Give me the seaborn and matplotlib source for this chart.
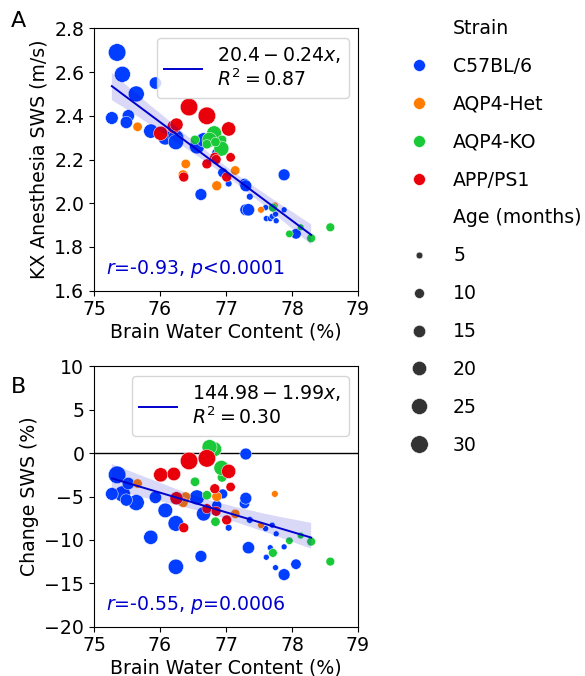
import numpy as np
import pandas as pd
import matplotlib
matplotlib.use("Agg")
import matplotlib.pyplot as plt
import seaborn as sns

# ========================== data ==========================
STRAIN_ORDER = ["C57BL/6", "AQP4-Het", "AQP4-KO", "APP/PS1"]

strain = (["C57BL/6"] * 31 + ["AQP4-Het"] * 7 + ["AQP4-KO"] * 12 + ["APP/PS1"] * 12)

age = [30, 25, 25, 16, 15, 15, 15, 20, 21, 24, 23, 22, 20, 14, 10, 10, 5, 11, 14, 14,
       15, 5, 4, 4, 4, 4, 4, 4, 4, 14, 11,
       9, 9, 10, 9, 10, 5, 5,
       9, 22, 22, 9, 22, 9, 9, 8, 6, 5, 8, 8,
       30, 30, 20, 20, 18, 17, 10, 9, 10, 10, 10, 10]

water = [75.35, 75.43, 75.64, 75.27, 75.52, 75.49, 75.93, 75.86, 76.08, 76.24,
         76.24, 76.56, 76.66, 76.62, 76.86, 76.95, 77.04, 77.28, 77.30, 77.30,
         77.34, 77.36, 77.60, 77.61, 77.67, 77.70, 77.76, 77.75, 77.88, 77.88, 78.06,
         75.66, 76.39, 76.35, 77.14, 76.86, 77.53, 77.74,
         76.53, 76.82, 76.75, 76.94, 76.93, 76.71, 76.84, 77.71, 77.96, 78.13, 78.29, 78.58,
         76.44, 76.71, 77.04, 76.01, 76.21, 76.25, 76.83, 77.07, 76.71, 76.85, 77.01, 76.36]

kx_sws = [2.69, 2.59, 2.50, 2.39, 2.40, 2.37, 2.55, 2.33, 2.30, 2.30,
          2.28, 2.26, 2.29, 2.04, 2.23, 2.14, 2.09, 2.09, 2.08, 1.97,
          1.97, 2.03, 1.98, 1.93, 1.93, 1.94, 1.92, 1.95, 1.97, 2.13, 1.86,
          2.35, 2.18, 2.13, 2.15, 2.08, 1.97, 1.99,
          2.29, 2.32, 2.29, 2.29, 2.25, 2.27, 2.28, 1.98, 1.86, 1.89, 1.84, 1.89,
          2.44, 2.40, 2.34, 2.32, 2.35, 2.36, 2.21, 2.21, 2.18, 2.20, 2.12, 2.12]

change_sws = [-2.5, -4.7, -5.7, -4.7, -3.5, -5.4, -5.1, -9.7, -6.6, -8.1,
              -13.1, -5.1, -7.0, -11.9, -6.0, -4.7, -8.6, -5.8, -5.2, -0.1,
              -10.9, -7.7, -8.7, -12.0, -10.9, -8.3, -9.3, -13.2, -10.8, -14.0, -12.8,
              -3.5, -5.0, -5.7, -7.0, -5.0, -8.3, -4.7,
              -3.3, 0.45, 0.7, -2.8, -1.7, -4.85, -7.9, -11.5, -10.1, -9.5, -10.2, -12.5,
              -0.9, -0.6, -2.1, -2.5, -2.4, -5.2, -4.1, -3.9, -6.4, -6.7, -7.7, -8.6]

FIT_A = "$20.4-0.24x$,\n$R^2=0.87$"
FIT_B = "$144.98-1.99x$,\n$R^2=0.30$"
STAT_A = "$r$=-0.93, $p$<0.0001"
STAT_B = "$r$=-0.55, $p$=0.0006"

df = pd.DataFrame({
    "Strain": strain,
    "Age (months)": age,
    "water": water,
    "kx_sws": kx_sws,
    "change_sws": change_sws,
})
# far-right AQP4-KO animal is not part of the fitted line
fit_df = df[df["water"] < 78.5]

# ========================== plot ==========================
FS = 13.6
plt.rcParams["font.size"] = FS
plt.rcParams["lines.markersize"] = 8.5
LINE_COLOR = "mediumblue"
palette = sns.color_palette("bright", 4)
SIZES = (18, 160)

fig = plt.figure(figsize=(5.85, 6.76), dpi=100)
ax_a = fig.add_axes([0.1607, 0.570, 0.4513, 0.388])
ax_b = fig.add_axes([0.1607, 0.073, 0.4513, 0.385])

# Panel A
sns.scatterplot(data=df, x="water", y="kx_sws", hue="Strain", hue_order=STRAIN_ORDER,
                size="Age (months)", sizes=SIZES, palette=palette,
                legend="brief", ax=ax_a)
leg = ax_a.get_legend()
handles = leg.legend_handles
labels = [t.get_text() for t in leg.get_texts()]
leg.remove()

sns.regplot(data=fit_df, x="water", y="kx_sws", scatter=False, color=LINE_COLOR,
            seed=0, ax=ax_a, line_kws=dict(lw=1.4))
line_a = ax_a.get_lines()[-1]
line_a.set_label(FIT_A)
ax_a.legend(handles=[line_a], loc="upper right", fontsize=FS)
ax_a.text(0.045, 0.04, STAT_A, transform=ax_a.transAxes, color=LINE_COLOR,
          fontsize=FS, va="bottom")
ax_a.set_xlim(75, 79)
ax_a.set_ylim(1.6, 2.8)
ax_a.set_yticks(np.arange(1.6, 2.81, 0.2))
ax_a.set_xticks(range(75, 80))
ax_a.set_xlabel("Brain Water Content (%)", fontsize=FS, labelpad=2)
ax_a.set_ylabel("KX Anesthesia SWS (m/s)", fontsize=FS)

# Panel B
ax_b.axhline(0, color="k", lw=1, zorder=0)
sns.scatterplot(data=df, x="water", y="change_sws", hue="Strain", hue_order=STRAIN_ORDER,
                size="Age (months)", sizes=SIZES, palette=palette,
                legend=False, ax=ax_b)
sns.regplot(data=fit_df, x="water", y="change_sws", scatter=False, color=LINE_COLOR,
            seed=0, ax=ax_b, line_kws=dict(lw=1.4))
line_b = ax_b.get_lines()[-1]
line_b.set_label(FIT_B)
ax_b.legend(handles=[line_b], loc="upper right", fontsize=FS)
ax_b.text(0.045, 0.04, STAT_B, transform=ax_b.transAxes, color=LINE_COLOR,
          fontsize=FS, va="bottom")
ax_b.set_xlim(75, 79)
ax_b.set_ylim(-20, 10)
ax_b.set_yticks(range(-20, 11, 5))
ax_b.set_xticks(range(75, 80))
ax_b.set_xlabel("Brain Water Content (%)", fontsize=FS, labelpad=2)
ax_b.set_ylabel("Change SWS (%)", fontsize=FS)

for ax in (ax_a, ax_b):
    ax.tick_params(labelsize=FS)

# strain / age legend to the right
fig.legend(handles, labels, loc="upper left", bbox_to_anchor=(0.655, 0.997),
           frameon=False, fontsize=FS, labelspacing=1.0)

fig.text(18.5 / 585, 1 - 21 / 676, "A", fontsize=16, ha="center", va="center")
fig.text(18.5 / 585, 1 - 387 / 676, "B", fontsize=16, ha="center", va="center")

fig.savefig("out.png", dpi=100)
